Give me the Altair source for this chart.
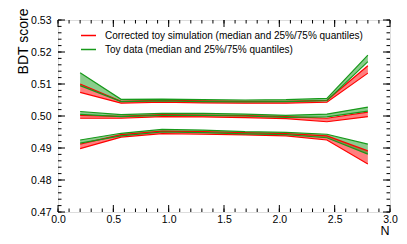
import altair as alt
import pandas as pd

# x positions of the points (N)
x_vals = [0.2, 0.57, 0.94, 1.31, 1.69, 2.06, 2.43, 2.8]

# Corrected toy simulation (red): band lower / upper edges
sim_q75_lo = [0.5074, 0.5040, 0.5043, 0.5041, 0.5040, 0.5040, 0.5043, 0.5134]
sim_q75_hi = [0.5100, 0.5046, 0.5049, 0.5047, 0.5046, 0.5046, 0.5049, 0.5157]
sim_med_lo = [0.4993, 0.4993, 0.4998, 0.4997, 0.4995, 0.4992, 0.4982, 0.4998]
sim_med_hi = [0.5002, 0.4999, 0.5004, 0.5003, 0.5001, 0.4998, 0.4993, 0.5012]
sim_q25_lo = [0.4898, 0.4934, 0.4945, 0.4943, 0.4941, 0.4938, 0.4925, 0.4850]
sim_q25_hi = [0.4912, 0.4942, 0.4953, 0.4951, 0.4948, 0.4945, 0.4938, 0.4891]

# Toy data (green)
dat_q75_lo = [0.5095, 0.5045, 0.5047, 0.5045, 0.5044, 0.5045, 0.5048, 0.5170]
dat_q75_hi = [0.5135, 0.5052, 0.5053, 0.5051, 0.5050, 0.5051, 0.5055, 0.5190]
dat_med_lo = [0.5005, 0.4998, 0.5002, 0.5002, 0.5000, 0.4996, 0.4997, 0.5015]
dat_med_hi = [0.5014, 0.5004, 0.5008, 0.5008, 0.5006, 0.5002, 0.5006, 0.5028]
dat_q25_lo = [0.4915, 0.4938, 0.4950, 0.4948, 0.4944, 0.4942, 0.4932, 0.4881]
dat_q25_hi = [0.4925, 0.4946, 0.4958, 0.4956, 0.4951, 0.4949, 0.4943, 0.4912]

series_names = ["Corrected toy simulation (median and 25%/75% quantiles)",
                "Toy data (median and 25%/75% quantiles)"]
series_colors = ["#ff0000", "#17991a"]

x_major = [0.0, 0.5, 1.0, 1.5, 2.0, 2.5, 3.0]
x_minor = [round(i * 0.1, 1) for i in range(31)]
y_major = [0.47, 0.48, 0.49, 0.50, 0.51, 0.52, 0.53]
y_minor = [round(0.47 + i * 0.002, 3) for i in range(31)]

bands = [
    (series_names[0], "q75", sim_q75_lo, sim_q75_hi),
    (series_names[0], "med", sim_med_lo, sim_med_hi),
    (series_names[0], "q25", sim_q25_lo, sim_q25_hi),
    (series_names[1], "q75", dat_q75_lo, dat_q75_hi),
    (series_names[1], "med", dat_med_lo, dat_med_hi),
    (series_names[1], "q25", dat_q25_lo, dat_q25_hi),
]
rows = []
for order, (s, b, lo, hi) in enumerate(bands):
    for xv, l, h in zip(x_vals, lo, hi):
        rows.append({"series": s, "fillgroup": s + " ", "band": f"{order}_{b}",
                     "x": xv, "lo": l, "hi": h, "ord": order})
df = pd.DataFrame(rows)

W, H = 332, 192
FONT = "Liberation Sans"

xs = alt.Scale(domain=[0, 3], nice=False, zero=False)
ys = alt.Scale(domain=[0.47, 0.53], nice=False, zero=False)

xaxis = alt.Axis(values=x_major, format=".1f", ticks=False, domain=False, grid=False,
                 labelFontSize=10.5, labelPadding=2, labelFont=FONT, labelColor="black",
                 labelOverlap=False, labelFlush=False,
                 title="N", titleFont=FONT, titleFontSize=12.5, titleFontWeight="normal",
                 titleAnchor="end", titleAlign="right", titleBaseline="alphabetic",
                 titleX=W - 1, titleY=22, titleColor="black")
yaxis = alt.Axis(values=y_major, format=".2f", ticks=False, domain=False, grid=False,
                 labelFontSize=10.5, labelPadding=7, labelFont=FONT, labelColor="black",
                 labelOverlap=False, labelFlush=False,
                 title="BDT score", titleFont=FONT, titleFontSize=14, titleFontWeight="normal",
                 titleAngle=-90, titleAlign="right", titleBaseline="alphabetic",
                 titleX=-31, titleY=-12, titleColor="black")

base = alt.Chart(df)

area = base.mark_area(opacity=0.5).encode(
    x=alt.X("x:Q", scale=xs, axis=xaxis),
    y=alt.Y("lo:Q", scale=ys, axis=yaxis),
    y2="hi:Q",
    fill=alt.Fill("fillgroup:N",
                  scale=alt.Scale(domain=[n + " " for n in series_names], range=series_colors),
                  legend=None),
    detail="band:N",
    order="ord:Q",
)

edges = base.transform_fold(["lo", "hi"], as_=["edge", "val"]).transform_calculate(
    key="datum.band + '_' + datum.edge"
).mark_line(strokeWidth=1.2).encode(
    x=alt.X("x:Q", scale=xs, axis=xaxis),
    y=alt.Y("val:Q", scale=ys, axis=yaxis),
    stroke=alt.Stroke("series:N", scale=alt.Scale(domain=series_names, range=series_colors),
                      legend=alt.Legend(title=None, orient="none", legendX=22, legendY=7,
                                        symbolType="stroke", symbolSize=225, symbolStrokeWidth=1.5,
                                        labelFont=FONT, labelFontSize=10, labelColor="black",
                                        labelOffset=8, rowPadding=-1, labelLimit=400)),
    detail="key:N",
)

def ticks_x(vals, length, top):
    d = pd.DataFrame({"v": vals})
    if top:
        enc = dict(y=alt.value(0), y2=alt.value(length))
    else:
        enc = dict(y=alt.value(H), y2=alt.value(H - length))
    return alt.Chart(d).mark_rule(color="black", strokeWidth=1).encode(
        x=alt.X("v:Q", scale=xs, axis=xaxis), **enc)

def ticks_y(vals, length, right):
    d = pd.DataFrame({"v": vals})
    if right:
        enc = dict(x=alt.value(W), x2=alt.value(W - length))
    else:
        enc = dict(x=alt.value(0), x2=alt.value(length))
    return alt.Chart(d).mark_rule(color="black", strokeWidth=1).encode(
        y=alt.Y("v:Q", scale=ys, axis=yaxis), **enc)

tick_layers = [
    ticks_x(x_minor, 3.5, False), ticks_x(x_major, 7, False),
    ticks_x(x_minor, 3.5, True), ticks_x(x_major, 7, True),
    ticks_y(y_minor, 3.5, False), ticks_y(y_major, 7, False),
    ticks_y(y_minor, 3.5, True), ticks_y(y_major, 7, True),
]

chart = alt.layer(area, edges, *tick_layers).properties(
    width=W, height=H,
    autosize=alt.AutoSizeParams(type="none"),
    padding={"left": 50, "top": 12, "right": 9, "bottom": 24},
).configure_view(stroke="black", strokeWidth=1).configure(background="white")

chart.save("out.html", embed_options={"renderer": "svg", "actions": False})
